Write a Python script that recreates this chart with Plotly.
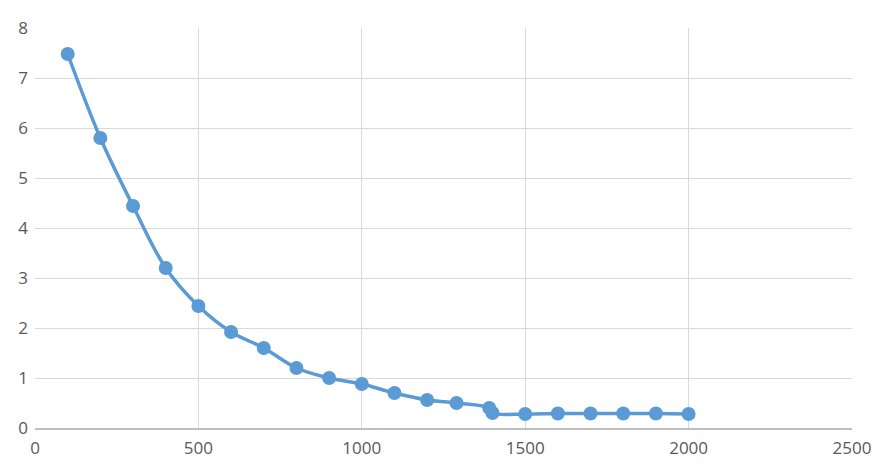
import plotly.graph_objects as go

x_vals = [100, 200, 300, 400, 500, 600, 700, 800, 900, 1000, 1100, 1200, 1290, 1390, 1400, 1500, 1600, 1700, 1800, 1900, 2000]
y_vals = [7.48, 5.8, 4.44, 3.2, 2.44, 1.92, 1.6, 1.2, 1.0, 0.88, 0.7, 0.56, 0.5, 0.4, 0.3, 0.28, 0.29, 0.29, 0.29, 0.29, 0.28]
x_ticks = [0, 500, 1000, 1500, 2000, 2500]
y_ticks = [0, 1, 2, 3, 4, 5, 6, 7, 8]

fig = go.Figure(go.Scatter(
    x=x_vals, y=y_vals, mode="lines+markers",
    line=dict(color="#5B9BD5", width=3.5, shape="spline", smoothing=1.0),
    marker=dict(color="#5B9BD5", size=14),
))

fig.update_layout(
    width=872, height=458,
    margin=dict(l=27, r=28, t=20, b=38),
    plot_bgcolor="white", paper_bgcolor="white",
    showlegend=False,
    font=dict(family="Open Sans, Liberation Sans, sans-serif", size=17, color="#595959"),
)
fig.update_xaxes(range=[0, 2500], tickvals=x_ticks, showgrid=True, gridcolor="#D9D9D9", gridwidth=1,
                 showline=True, linecolor="#BFBFBF", linewidth=1.5, zeroline=False, ticks="",
                 automargin=False, ticklabelstandoff=4, ticklabeloverflow="allow")
fig.update_yaxes(range=[0, 8], tickvals=y_ticks, showgrid=True, gridcolor="#D9D9D9", gridwidth=1,
                 showline=False, zeroline=False, ticks="", automargin=False, ticklabelstandoff=6)

fig.write_html("out.html")
